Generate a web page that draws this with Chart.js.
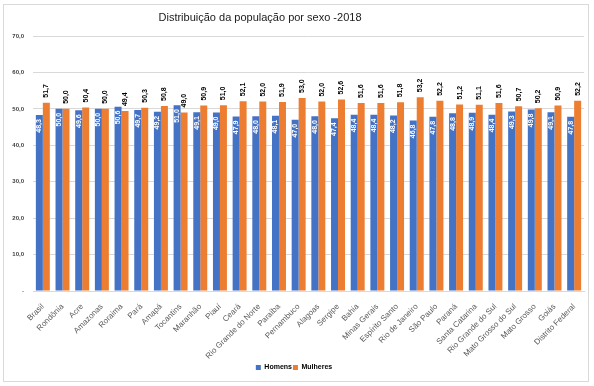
<!DOCTYPE html>
<html>
<head>
<meta charset="utf-8">
<script src="https://cdn.jsdelivr.net/npm/chart.js@4"></script>
<style>
  body { margin: 0; background: #fff; }
  #quadro {
    position: absolute; left: 3px; top: 4px;
    width: 584px; height: 376px;
    border: 1px solid #d9d9d9; background: #fff;
  }
</style>
</head>
<body>
<div id="quadro"><canvas id="grafico" width="584" height="376"></canvas></div>
<script>
// === Dados ===
const categorias = [
  "Brasil", "Rondônia", "Acre", "Amazonas", "Roraima", "Pará", "Amapá",
  "Tocantins", "Maranhão", "Piauí", "Ceará", "Rio Grande do Norte", "Paraíba",
  "Pernambuco", "Alagoas", "Sergipe", "Bahia", "Minas Gerais", "Espírito Santo",
  "Rio de Janeiro", "São Paulo", "Paraná", "Santa Catarina",
  "Rio Grande do Sul", "Mato Grosso do Sul", "Mato Grosso", "Goiás",
  "Distrito Federal",
];
const homens = [
  48.3, 50.0, 49.6, 50.0, 50.6, 49.7, 49.2, 51.0, 49.1, 49.0, 47.9, 48.0, 48.1,
  47.0, 48.0, 47.4, 48.4, 48.4, 48.2, 46.8, 47.8, 48.8, 48.9, 48.4, 49.3, 49.8,
  49.1, 47.8,
];
const mulheres = [
  51.7, 50.0, 50.4, 50.0, 49.4, 50.3, 50.8, 49.0, 50.9, 51.0, 52.1, 52.0, 51.9,
  53.0, 52.0, 52.6, 51.6, 51.6, 51.8, 53.2, 52.2, 51.2, 51.1, 51.6, 50.7, 50.2,
  50.9, 52.2,
];
const titulo = "Distribuição da população por sexo -2018";

const fonte = "'Liberation Sans', Arial, sans-serif";
const fmt = (v) => (v === 0 ? "-" : v.toFixed(1).replace(".", ","));

// === Rótulos de dados (verticais) ===
const rotulosPlugin = {
  id: "rotulos",
  afterDatasetsDraw(chart) {
    const { ctx } = chart;
    chart.data.datasets.forEach((ds, i) => {
      chart.getDatasetMeta(i).data.forEach((bar, j) => {
        ctx.save();
        ctx.translate(bar.x, i === 0 ? bar.y + 4 : bar.y - 5);
        ctx.rotate(-Math.PI / 2);
        ctx.textAlign = i === 0 ? "right" : "left";
        ctx.textBaseline = "middle";
        ctx.fillStyle = i === 0 ? "#ffffff" : "#000000";
        ctx.font = "bold 7px " + fonte;
        ctx.fillText(fmt(ds.data[j]), 0, 0);
        ctx.restore();
      });
    });
  },
};

// === Título deslocado como no original ===
const tituloPlugin = {
  id: "titulo",
  afterDraw(chart) {
    const { ctx } = chart;
    ctx.save();
    ctx.font = "11px " + fonte;
    ctx.fillStyle = "#1a1a1a";
    ctx.textAlign = "center";
    ctx.textBaseline = "middle";
    ctx.fillText(titulo, 256, 13);
    ctx.restore();
  },
};

new Chart(document.getElementById("grafico"), {
  type: "bar",
  data: {
    labels: categorias,
    datasets: [
      { label: "Homens", data: homens, backgroundColor: "#4472C4" },
      { label: "Mulheres", data: mulheres, backgroundColor: "#ED7D31" },
    ],
  },
  options: {
    responsive: false,
    animation: false,
    layout: { padding: { top: 31, right: 4, left: 0, bottom: 0 } },
    datasets: { bar: { categoryPercentage: 0.71, barPercentage: 1 } },
    plugins: {
      title: { display: false },
      tooltip: { enabled: false },
      legend: {
        position: "bottom",
        labels: {
          boxWidth: 5,
          boxHeight: 5,
          padding: 1,
          color: "#000",
          font: { family: fonte, size: 7, weight: "bold" },
        },
      },
    },
    scales: {
      x: {
        grid: { display: false },
        border: { color: "#d9d9d9" },
        ticks: {
          autoSkip: false,
          minRotation: 45,
          maxRotation: 45,
          padding: 3,
          color: "#595959",
          font: { family: fonte, size: 8 },
        },
        afterFit: (s) => { s.height = 72; },
      },
      y: {
        min: 0,
        max: 70,
        grid: { color: "#d9d9d9", drawTicks: false },
        border: { display: false },
        ticks: {
          stepSize: 10,
          padding: 9,
          color: "#404040",
          font: { family: fonte, size: 6, weight: "bold" },
          callback: (v) => fmt(v),
        },
        afterFit: (s) => { s.width = 29; },
      },
    },
  },
  plugins: [rotulosPlugin, tituloPlugin],
});
</script>
</body>
</html>
